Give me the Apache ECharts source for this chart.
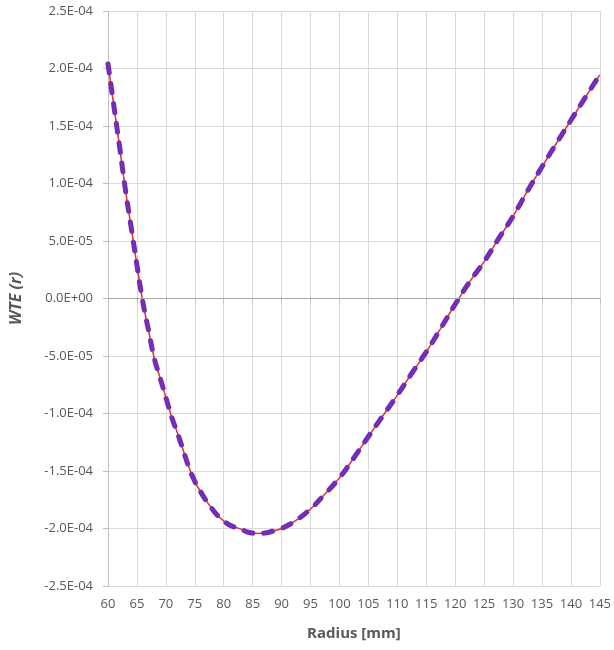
<!DOCTYPE html>
<html>
<head>
<meta charset="utf-8">
<script src="https://cdn.jsdelivr.net/npm/echarts@6/dist/echarts.min.js"></script>
<style>
html,body{margin:0;padding:0;background:#fff;}
#chart{width:614px;height:650px;}
</style>
</head>
<body>
<div id="chart"></div>
<script>
const radius = [60, 61, 62, 63, 64, 65, 66, 67, 68, 69, 70, 71, 72, 73, 74, 75, 76, 77, 78, 79, 80, 81, 82, 83, 84, 85, 86, 87, 88, 89, 90, 92.5, 95, 97.5, 100, 102.5, 105, 107.5, 110, 112.5, 115, 117.5, 120, 122.5, 125, 127.5, 130, 132.5, 135, 137.5, 140, 142.5, 145];
const wte = [2.04e-4, 1.68e-4, 1.32e-4, 9.5e-5, 6.2e-5, 2.9e-5, -2.5e-6, -2.75e-5, -5.2e-5, -6.9e-5, -8.6e-5, -1.03e-4, -1.17e-4, -1.32e-4, -1.47e-4, -1.59e-4, -1.68e-4, -1.76e-4, -1.83e-4, -1.89e-4, -1.935e-4, -1.97e-4, -1.99e-4, -2.005e-4, -2.03e-4, -2.04e-4, -2.043e-4, -2.04e-4, -2.03e-4, -2.015e-4, -2.0e-4, -1.93e-4, -1.83e-4, -1.70e-4, -1.56e-4, -1.385e-4, -1.20e-4, -1.02e-4, -8.4e-5, -6.5e-5, -4.65e-5, -2.6e-5, -5e-6, 1.45e-5, 3.2e-5, 5.2e-5, 7.15e-5, 9.35e-5, 1.145e-4, 1.35e-4, 1.55e-4, 1.75e-4, 1.945e-4];
const xTitle = 'Radius [mm]';
const yTitle = 'WTE (r)';
const zeroLine = [0];

const pts = radius.map((r, i) => [r, wte[i]]);

function sci(v) {
  if (Math.abs(v) < 1e-12) return '0.0E+00';
  const s = v.toExponential(1);
  const parts = s.split('e');
  let exp = parseInt(parts[1], 10);
  const sign = exp < 0 ? '-' : '+';
  exp = Math.abs(exp);
  return parts[0] + 'E' + sign + (exp < 10 ? '0' + exp : '' + exp);
}

const chart = echarts.init(document.getElementById('chart'));
const labelFont = { fontFamily: 'Open Sans', fontSize: 13, color: '#595959' };
chart.setOption({
  animation: false,
  backgroundColor: '#ffffff',
  grid: { left: 104, right: 12, top: 11, bottom: 64, containLabel: false },
  xAxis: {
    type: 'value', min: 60, max: 145, interval: 5,
    name: xTitle, nameLocation: 'middle', nameGap: 40,
    nameTextStyle: { fontFamily: 'Open Sans', fontSize: 15, fontWeight: 'bold', color: '#595959' },
    axisLine: { show: true, lineStyle: { color: '#bfbfbf', width: 1 } },
    axisTick: { show: true, length: 5, lineStyle: { color: '#bfbfbf' } },
    axisLabel: Object.assign({ margin: 12 }, labelFont),
    splitLine: { show: true, lineStyle: { color: '#d9d9d9', width: 1 } }
  },
  yAxis: {
    type: 'value', min: -2.5e-4, max: 2.5e-4, interval: 5e-5,
    name: yTitle, nameLocation: 'middle', nameGap: 84, nameRotate: 90,
    nameTextStyle: { fontFamily: 'Open Sans', fontSize: 16, fontWeight: 'bold', fontStyle: 'italic', color: '#595959' },
    axisLine: { show: true, lineStyle: { color: '#bfbfbf', width: 1 } },
    axisTick: { show: true, length: 5, lineStyle: { color: '#bfbfbf' } },
    axisLabel: Object.assign({ margin: 15, formatter: sci }, labelFont),
    splitLine: { show: true, lineStyle: { color: '#d9d9d9', width: 1 } }
  },
  series: [
    {
      type: 'line', data: pts, smooth: 0.4, symbol: 'none', z: 2,
      lineStyle: { color: '#e5352b', width: 1.5 },
      markLine: {
        silent: true, symbol: 'none', label: { show: false },
        lineStyle: { color: '#a6a6a6', width: 1, type: 'solid' },
        data: zeroLine.map(v => ({ yAxis: v }))
      }
    },
    {
      type: 'line', data: pts, smooth: 0.4, symbol: 'none', z: 3,
      lineStyle: { color: '#6a2cc0', width: 5, type: [9, 11], cap: 'round' }
    },
    {
      type: 'line', data: pts, smooth: 0.4, symbol: 'none', z: 4,
      lineStyle: { color: 'rgba(229,53,43,0.35)', width: 1 }
    }
  ]
});
</script>
</body>
</html>
